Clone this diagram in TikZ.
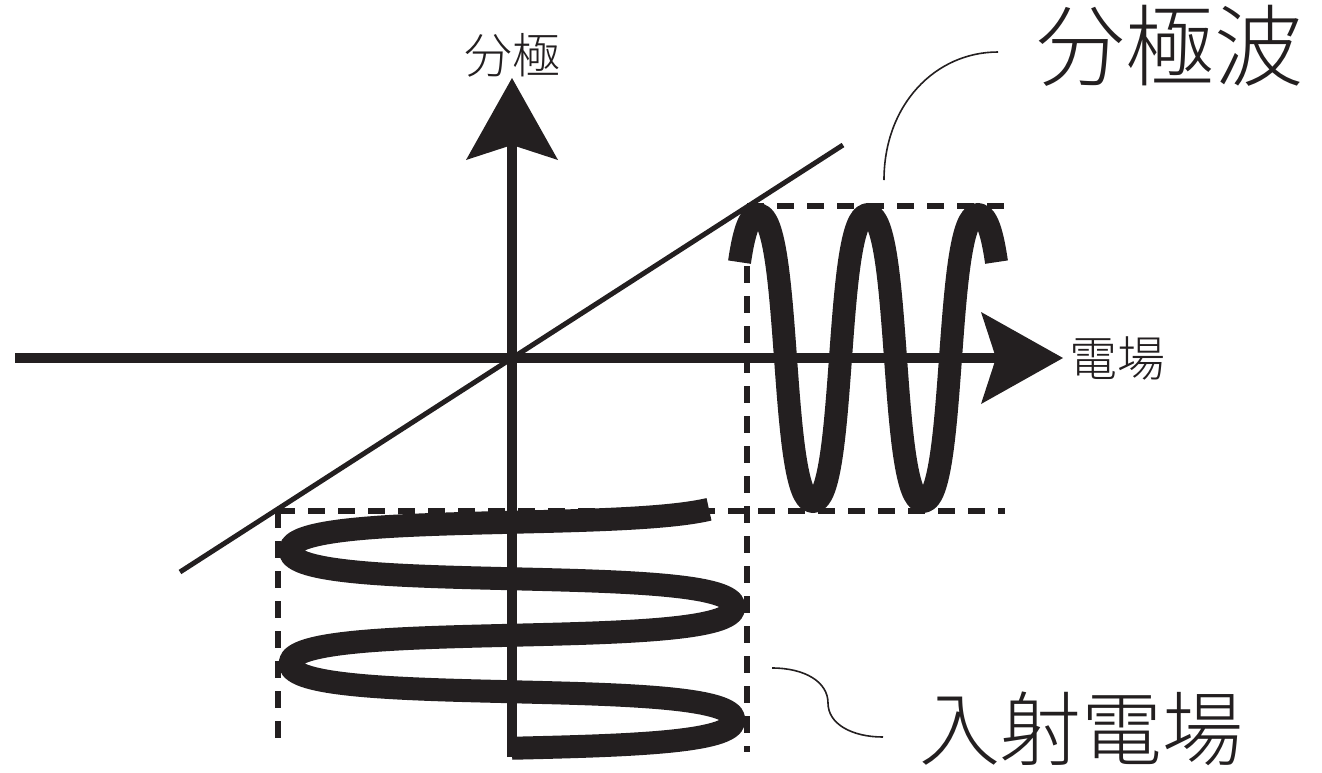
\documentclass[tikz,border=0pt]{standalone}
\usepackage{fontspec}
\newfontfamily\jpfont{Noto Sans CJK JP}[UprightFont=* Light]
\usetikzlibrary{arrows.meta, positioning}
\definecolor{ink}{RGB}{35,31,32}
\tikzset{
  axisarr/.style={-{Stealth[length=82pt, width=92pt, inset=15pt, line width=0pt]},
                  line width=10pt, draw=ink},
  diagline/.style={line width=5pt, draw=ink},
  guide/.style={line width=5.5pt, draw=ink, dash pattern=on 17pt off 13pt},
  wavestroke/.style={line width=23pt, draw=ink, line join=round},
  leader/.style={line width=1.6pt, draw=ink},
  axislbl/.style={font=\jpfont\fontsize{48}{52}\selectfont, text=ink, inner sep=0pt},
  namelbl/.style={font=\jpfont\fontsize{89}{96}\selectfont, text=ink, inner sep=0pt},
}

\begin{document}
\begin{tikzpicture}[x=1pt, y=-1pt]
  \useasboundingbox (0,0) rectangle (1322,772);

  % axes and response line
  \coordinate (xl) at (15,358);
  \coordinate (xr) at (1063,358);
  \coordinate (yb) at (512,757);
  \coordinate (yt) at (512,78);
  \coordinate (dl) at (180,572);
  \coordinate (du) at (843,145);

  % projection points and guide ends
  \coordinate (pA) at (747,206);
  \coordinate (pB) at (278,511);
  \coordinate (gAr) at (1015,206);
  \coordinate (gAb) at (747,752);
  \coordinate (gBr) at (1005,511);
  \coordinate (gBb) at (278,745);

  \foreach \a/\b in {pA/gAr, pA/gAb, pB/gBr, pB/gBb} {
    \draw[guide] (\a) -- (\b);
  }

  % polarisation wave
  \draw[wavestroke] (739.5,262.1) .. controls (743.6,233.6) and (749.2,214.5) .. (758,214.5)
    \foreach \xa in {758,868} {
      .. controls ({\xa+34},214.5) and ({\xa+21},501.5) .. ({\xa+55},501.5)
      .. controls ({\xa+89},501.5) and ({\xa+76},214.5) .. ({\xa+110},214.5)
    }
    .. controls (986.8,214.5) and (992.4,233.6) .. (996.5,262.1);

  % incident field
  \draw[wavestroke] (709,509.3) .. controls (615.3,531.5) and (290,511.1) .. (290,550.5)
    .. controls (290,596.5) and (734,561) .. (734,607)
    .. controls (734,653) and (290,617.5) .. (290,663.5)
    .. controls (290,709.5) and (734,674) .. (734,720)
    .. controls (734,743) and (623,745.6) .. (512,748.25);

  \draw[diagline] (dl) -- (du);
  \draw[axisarr] (xl) -- (xr);
  \draw[axisarr] (yb) -- (yt);

  \node[axislbl] (ylbl) at (512,55) {分極};
  \node[axislbl, right=6pt of xr] (xlbl) {電場};
  \node[namelbl] (polw) at (1170,46) {分極波};
  \node[namelbl, font=\jpfont\fontsize{81}{88}\selectfont] (incf) at (1081,729) {入射電場};

  % leaders
  \coordinate (wA) at (998,52);
  \coordinate (wB) at (884,180);
  \coordinate (iA) at (772,668);
  \coordinate (iM) at (828,703);
  \coordinate (iB) at (883,737);
  \draw[leader] (wA) .. controls (935,52) and (884,105) .. (wB);
  \draw[leader] (iA) .. controls (805,668) and (828,682) .. (iM)
                     .. controls (828,724) and (852,737) .. (iB);
\end{tikzpicture}
\end{document}
